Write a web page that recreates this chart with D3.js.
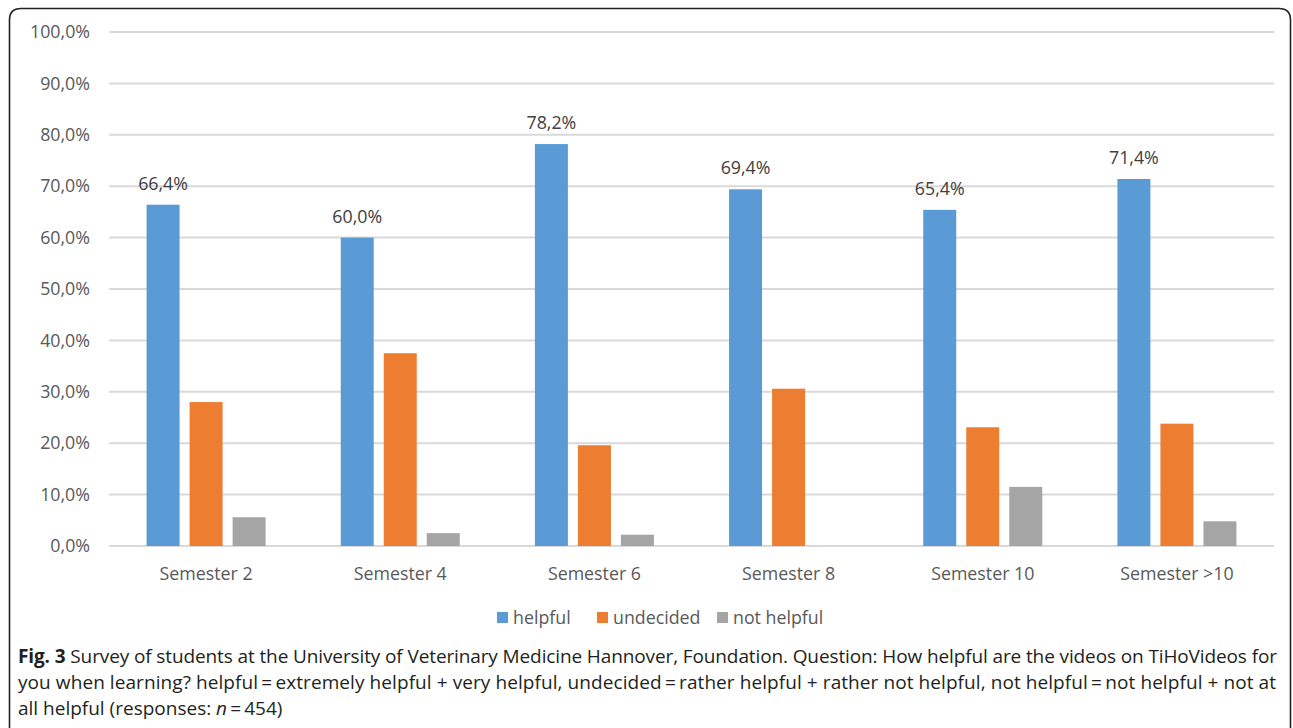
<!DOCTYPE html>
<html>
<head>
<meta charset="utf-8">
<script src="https://cdn.jsdelivr.net/npm/d3@7"></script>
<style>
  html, body { margin: 0; padding: 0; background: #fff; }
  svg { display: block; }
</style>
</head>
<body>
<svg id="chart" width="1293" height="728"></svg>
<script>
// Survey results per semester (percent of respondents)
const categories = ["Semester 2", "Semester 4", "Semester 6", "Semester 8", "Semester 10", "Semester >10"];
const seriesNames = ["helpful", "undecided", "not helpful"];
const helpful = [66.4, 60.0, 78.2, 69.4, 65.4, 71.4];
const undecided = [28.0, 37.5, 19.6, 30.6, 23.1, 23.8];
const notHelpful = [5.6, 2.5, 2.2, 0.0, 11.5, 4.8];
const yTicks = [0, 10, 20, 30, 40, 50, 60, 70, 80, 90, 100];
const colors = ["#5B9BD5", "#ED7D31", "#A5A5A5"];

const seriesValues = [helpful, undecided, notHelpful];
const fmt = v => v.toFixed(1).replace(".", ",") + "%";

const svg = d3.select("#chart");
const chartFont = "'Open Sans', Lato, sans-serif";
const captionFont = "'Open Sans', sans-serif";
const labelSize = 17.8;

// Outer frame with rounded top corners
svg.append("path")
  .attr("d", "M9.5,740 L9.5,20 Q9.5,8.5 21,8.5 L1279,8.5 Q1290.5,8.5 1290.5,20 L1290.5,740")
  .attr("fill", "none")
  .attr("stroke", "#222")
  .attr("stroke-width", 1.6);

const plot = { left: 109, right: 1274, top: 32, bottom: 546 };

const x0 = d3.scaleBand().domain(categories).range([plot.left, plot.right]).paddingInner(0.387).paddingOuter(0.1935);
const x1 = d3.scaleBand().domain(seriesNames).range([0, x0.bandwidth()]).paddingInner(0.233);
const y = d3.scaleLinear().domain([0, 100]).range([plot.bottom, plot.top]);

// Horizontal gridlines
svg.append("g").selectAll("line")
  .data(yTicks)
  .join("line")
  .attr("x1", plot.left).attr("x2", plot.right)
  .attr("y1", d => y(d)).attr("y2", d => y(d))
  .attr("stroke", "#D9D9D9")
  .attr("stroke-width", 2);

// Y axis labels
const yAxis = d3.axisLeft(y).tickValues(yTicks).tickFormat(fmt).tickSize(0).tickPadding(0);
const yG = svg.append("g").attr("transform", `translate(${90},0)`).call(yAxis);
yG.select(".domain").remove();
yG.selectAll("text")
  .attr("font-family", chartFont)
  .attr("font-size", labelSize)
  .attr("fill", "#595959");

// Bars
const groups = svg.append("g").selectAll("g")
  .data(categories)
  .join("g")
  .attr("transform", d => `translate(${x0(d)},0)`);

groups.selectAll("rect")
  .data((c, i) => seriesNames.map((s, j) => ({ s, j, v: seriesValues[j][i] })))
  .join("rect")
  .attr("x", d => x1(d.s))
  .attr("width", x1.bandwidth())
  .attr("y", d => y(d.v))
  .attr("height", d => y(0) - y(d.v))
  .attr("fill", d => colors[d.j]);

// Value labels over the "helpful" bars
groups.append("text")
  .attr("x", x1("helpful") + x1.bandwidth() / 2)
  .attr("y", (c, i) => y(helpful[i]) - 15)
  .attr("text-anchor", "middle")
  .attr("font-family", chartFont)
  .attr("font-size", labelSize)
  .attr("fill", "#404040")
  .text((c, i) => fmt(helpful[i]));

// X axis labels
const xAxis = d3.axisBottom(x0).tickSize(0).tickPadding(0);
const xG = svg.append("g").attr("transform", `translate(0,${580})`).call(xAxis);
xG.select(".domain").remove();
xG.selectAll("text")
  .attr("dy", 0)
  .attr("font-family", chartFont)
  .attr("font-size", labelSize)
  .attr("fill", "#595959");

// Legend
const legendItems = [
  { name: "helpful", x: 497 },
  { name: "undecided", x: 597 },
  { name: "not helpful", x: 717 }
];
const lg = svg.append("g").selectAll("g")
  .data(legendItems)
  .join("g")
  .attr("transform", d => `translate(${d.x},0)`);
lg.append("rect")
  .attr("x", 0).attr("y", 612)
  .attr("width", 11).attr("height", 11)
  .attr("fill", (d, i) => colors[i]);
lg.append("text")
  .attr("x", 16).attr("y", 624)
  .attr("font-family", chartFont)
  .attr("font-size", labelSize)
  .attr("fill", "#595959")
  .text(d => d.name);

// Caption
const cap = svg.append("g")
  .attr("font-family", captionFont)
  .attr("font-size", 19)
  .attr("fill", "#231f20");

const line1 = cap.append("text").attr("x", 18).attr("y", 663)
  .attr("textLength", 1259).attr("lengthAdjust", "spacing");
line1.append("tspan").attr("font-weight", "bold").text("Fig. 3");
line1.append("tspan").text(" Survey of students at the University of Veterinary Medicine Hannover, Foundation. Question: How helpful are the videos on TiHoVideos for");

cap.append("text").attr("x", 18).attr("y", 689)
  .attr("textLength", 1258).attr("lengthAdjust", "spacing")
  .text("you when learning? helpful\u2009=\u2009extremely helpful + very helpful, undecided\u2009=\u2009rather helpful + rather not helpful, not helpful\u2009=\u2009not helpful + not at");

const line3 = cap.append("text").attr("x", 18).attr("y", 715);
line3.append("tspan").text("all helpful (responses: ");
line3.append("tspan").attr("font-style", "italic").text("n");
line3.append("tspan").text("\u2009=\u2009454)");
</script>
</body>
</html>
